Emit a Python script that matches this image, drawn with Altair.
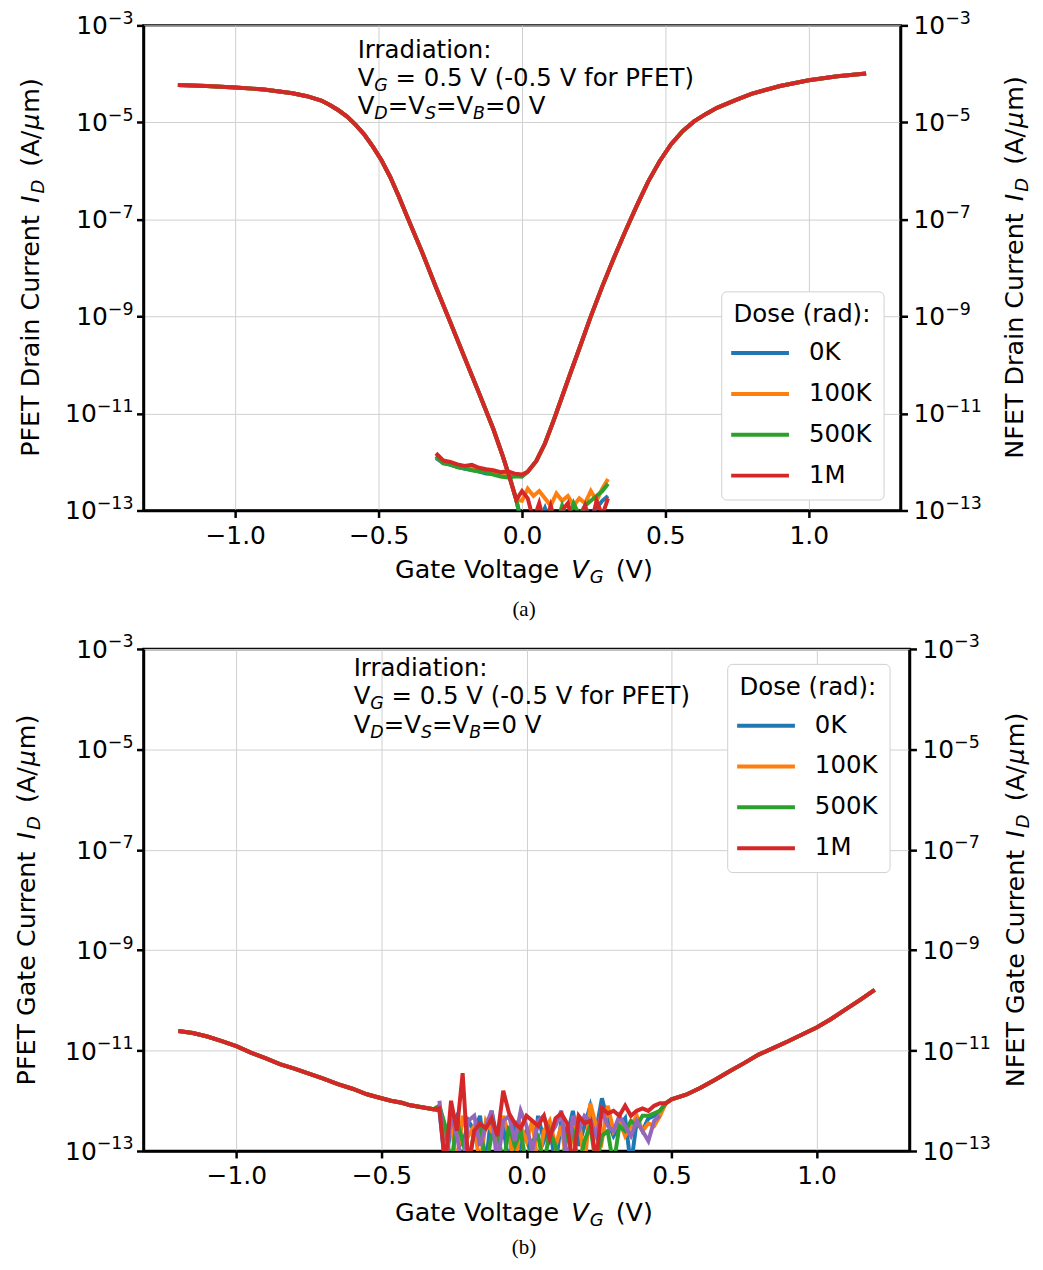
import altair as alt
import pandas as pd

FONT = "DejaVu Sans"
SERIF = "Liberation Serif"
DOSES = ["0K", "100K", "500K", "1M"]
EXTRA = "other"
SERIES_ORDER = DOSES + [EXTRA]
SERIES_COLORS = ["#1f77b4", "#ff7f0e", "#2ca02c", "#d62728", "#9467bd"]

X_TICKS = [-1.0, -0.5, 0.0, 0.5, 1.0]
Y_TICKS = [1e-13, 1e-11, 1e-9, 1e-7, 1e-5, 1e-3]
Y_TICK_BASE = "10"
Y_TICK_EXP = ["−13", "−11", "−9", "−7", "−5", "−3"]

# ---------------- (a) drain current, read as log10(I_D [A/um]) ----------------
A_PFET_VG = [-1.20, -1.10, -1.00, -0.90, -0.80, -0.75, -0.70, -0.67, -0.64, -0.61, -0.58,
             -0.55, -0.52, -0.49, -0.46, -0.43, -0.40, -0.35, -0.30, -0.25, -0.20, -0.15,
             -0.10, -0.067, -0.04, -0.02]
A_PFET_LOG = [-4.23, -4.25, -4.28, -4.32, -4.40, -4.46, -4.55, -4.64, -4.75, -4.88, -5.05,
              -5.25, -5.50, -5.78, -6.12, -6.52, -6.95, -7.65, -8.40, -9.12, -9.85, -10.58,
              -11.32, -11.88, -12.38, -12.78]
A_PFET_TAIL_VG = [0.00, 0.02, 0.04, 0.06, 0.08, 0.10, 0.12, 0.14, 0.16, 0.18, 0.20, 0.22,
                  0.24, 0.26, 0.28, 0.30]
A_PFET_TAIL_0K = [-13.3, -13.1, -13.3, -13.2, -12.95, -13.3, -13.1, -13.0, -13.3, -13.2,
                  -13.3, -12.95, -13.1, -12.95, -12.8, -12.7]
A_PFET_TAIL_100K = [-12.8, -12.55, -12.7, -12.6, -12.75, -12.9, -12.65, -12.8, -12.7, -12.9,
                    -12.75, -12.85, -12.6, -12.8, -12.55, -12.35]
A_PFET_TAIL_500K = [-13.3, -13.2, -13.3, -13.1, -13.3, -13.0, -13.3, -12.9, -13.2, -12.85,
                    -13.1, -12.9, -12.8, -12.7, -12.6, -12.45]
A_PFET_TAIL_1M = [-12.6, -12.75, -13.2, -12.85, -13.3, -12.9, -13.3, -13.0, -12.85, -13.3,
                  -13.2, -12.9, -13.3, -12.8, -13.1, -12.75]

A_NFET_OFF_VG = [-0.30, -0.275, -0.25, -0.225, -0.20, -0.175, -0.15, -0.125, -0.10, -0.075,
                 -0.05, -0.025, 0.0]
A_NFET_OFF_0K = [-11.92, -12.02, -12.06, -12.10, -12.14, -12.16, -12.20, -12.24, -12.25,
                 -12.27, -12.28, -12.28, -12.30]
A_NFET_OFF_100K = [-11.90, -12.00, -12.05, -12.08, -12.11, -12.14, -12.18, -12.20, -12.22,
                   -12.26, -12.27, -12.25, -12.28]
A_NFET_OFF_500K = [-11.88, -12.03, -12.05, -12.11, -12.13, -12.17, -12.19, -12.22, -12.26,
                   -12.30, -12.32, -12.30, -12.30]
A_NFET_OFF_1M = [-11.82, -11.97, -12.00, -12.05, -12.08, -12.06, -12.12, -12.15, -12.17,
                 -12.21, -12.19, -12.24, -12.26]
A_NFET_VG = [0.02, 0.05, 0.08, 0.11, 0.14, 0.17, 0.20, 0.24, 0.28, 0.32, 0.36, 0.40, 0.44,
             0.48, 0.52, 0.56, 0.60, 0.64, 0.68, 0.74, 0.80, 0.90, 1.00, 1.10, 1.20]
A_NFET_LOG = [-12.20, -11.98, -11.62, -11.15, -10.65, -10.15, -9.66, -9.00, -8.38, -7.80,
              -7.25, -6.72, -6.22, -5.80, -5.45, -5.18, -4.98, -4.83, -4.70, -4.55, -4.41,
              -4.25, -4.13, -4.05, -3.99]

# ---------------- (b) gate current, read as log10(I [A/um]) ----------------
B_PFET_VG = [-1.20, -1.15, -1.10, -1.05, -1.00, -0.95, -0.90, -0.85, -0.80, -0.76, -0.70,
             -0.65, -0.60, -0.55, -0.50, -0.467, -0.43, -0.40, -0.36, -0.32]
B_PFET_LOG = [-10.61, -10.65, -10.72, -10.81, -10.91, -11.04, -11.15, -11.27, -11.36, -11.44,
              -11.56, -11.67, -11.76, -11.87, -11.95, -12.00, -12.04, -12.09, -12.13, -12.17]
B_NOISE_VG = [-0.30, -0.28, -0.26, -0.24, -0.22, -0.20, -0.18, -0.16, -0.14, -0.12, -0.10,
              -0.08, -0.06, -0.04, -0.02, 0.00, 0.02, 0.04, 0.06, 0.08, 0.10, 0.12, 0.14,
              0.16, 0.18, 0.20, 0.22, 0.24, 0.26, 0.28, 0.30, 0.32, 0.34, 0.36, 0.38, 0.40,
              0.42, 0.44, 0.46]
B_NOISE_0K = [-12.20, -13.30, -12.50, -12.30, -12.90, -12.40, -12.60, -12.30, -13.30, -12.20,
              -12.80, -12.50, -13.30, -12.40, -12.90, -12.60, -13.30, -12.30, -12.80, -12.50,
              -13.30, -12.40, -12.70, -12.20, -12.90, -12.50, -12.10, -12.60, -11.95, -12.40,
              -12.70, -12.50, -12.35, -13.30, -12.40, -12.60, -12.35, -12.30, -12.20]
B_NOISE_100K = [-12.10, -12.80, -12.40, -13.30, -12.30, -12.70, -12.50, -13.30, -12.40, -12.60,
                -12.90, -12.30, -12.70, -13.30, -12.50, -12.80, -12.40, -13.30, -12.60, -12.40,
                -12.90, -12.50, -13.30, -12.60, -12.30, -13.30, -12.05, -12.50, -12.80, -12.10,
                -12.60, -12.40, -12.70, -12.50, -12.30, -12.60, -12.45, -12.50, -12.30]
B_NOISE_500K = [-12.10, -12.50, -13.30, -12.40, -12.80, -13.30, -12.60, -12.50, -13.30, -12.70,
                -12.60, -13.30, -12.50, -12.90, -12.60, -13.30, -12.80, -12.70, -13.30, -12.60,
                -12.90, -13.30, -12.70, -12.60, -13.30, -12.80, -12.50, -13.30, -12.70, -12.60,
                -13.30, -12.50, -12.60, -12.40, -12.50, -12.30, -12.30, -12.25, -12.20]
B_NOISE_EXTRA = [-12.00, -13.30, -12.30, -12.70, -13.30, -12.40, -12.30, -12.90, -12.50, -12.20,
                 -13.30, -12.40, -12.30, -12.80, -12.20, -12.50, -13.00, -12.40, -12.30, -12.70,
                 -12.50, -12.20, -13.30, -12.30, -12.60, -12.30, -12.40, -12.70, -12.20, -12.50,
                 -12.60, -12.30, -12.50, -12.70, -12.40, -12.60, -12.80, -12.40, -12.30]
B_NOISE_1M = [-12.15, -13.30, -12.00, -12.60, -11.45, -13.30, -12.60, -12.45, -12.55, -12.35,
              -12.70, -11.80, -12.25, -12.45, -12.55, -12.30, -12.40, -12.50, -12.30, -12.75,
              -12.35, -12.25, -12.45, -13.30, -12.30, -12.45, -12.40, -13.20, -12.15, -12.25,
              -12.20, -12.30, -12.10, -12.30, -12.20, -12.15, -12.20, -12.10, -12.05]
B_NFET_VG = [0.48, 0.50, 0.55, 0.60, 0.65, 0.70, 0.75, 0.80, 0.85, 0.90, 0.95, 1.00, 1.05,
             1.10, 1.15, 1.20]
B_NFET_LOG = [-12.05, -11.97, -11.88, -11.74, -11.58, -11.41, -11.25, -11.08, -10.95, -10.82,
              -10.68, -10.54, -10.37, -10.18, -9.99, -9.79]

# ---------------- data tables ----------------
def seg(series, dev, vgs, logs):
    return [{"series": series, "dev": dev, "VG": v, "I": 10.0 ** l} for v, l in zip(vgs, logs)]


A_TAILS = [A_PFET_TAIL_0K, A_PFET_TAIL_100K, A_PFET_TAIL_500K, A_PFET_TAIL_1M]
A_OFFS = [A_NFET_OFF_0K, A_NFET_OFF_100K, A_NFET_OFF_500K, A_NFET_OFF_1M]
rows_a = []
for d, tail, off in zip(DOSES, A_TAILS, A_OFFS):
    rows_a += seg(d, d + "p", A_PFET_VG + A_PFET_TAIL_VG, A_PFET_LOG + tail)
    rows_a += seg(d, d + "n", A_NFET_OFF_VG + A_NFET_VG, off + A_NFET_LOG)
df_a = pd.DataFrame(rows_a)

rows_b = []
for s, noise in [("0K", B_NOISE_0K), ("100K", B_NOISE_100K), ("500K", B_NOISE_500K),
                 (EXTRA, B_NOISE_EXTRA), ("1M", B_NOISE_1M)]:
    if s == EXTRA:
        rows_b += seg(s, s, B_NOISE_VG, noise)
    else:
        rows_b += seg(s, s, B_PFET_VG + B_NOISE_VG + B_NFET_VG, B_PFET_LOG + noise + B_NFET_LOG)
df_b = pd.DataFrame(rows_b)

AXIS_DF = pd.DataFrame({"VG": [0.0], "I": [1e-8]})
ONE = pd.DataFrame({"k": [0]})

# ---------------- helpers ----------------
W = {" ": .318, "(": .390, ")": .390, "-": .361, "−": .838, ".": .318, "/": .337,
     ":": .337, "=": .838, "A": .684, "B": .686, "C": .698, "D": .770, "E": .632, "F": .575,
     "G": .775, "I": .295, "N": .748, "P": .603, "S": .635, "T": .611, "V": .684, "a": .613,
     "d": .635, "e": .615, "f": .352, "g": .635, "i": .278, "l": .278, "m": .974, "n": .634,
     "o": .612, "r": .411, "s": .521, "t": .392, "u": .634, "μ": .635}
for ch in "0123456789":
    W[ch] = .636


def tw(s, size):
    return sum(W.get(c, .6) for c in s) * size


TS = 24.5   # text size
SS = 17.5   # sub/superscript size
TICK = 25
TT = 25.5   # axis-title size
TSS = 18    # axis-title subscript size


def rich_width(pieces):
    return sum(tw(p[0], p[1]) + p[4] for p in pieces)


def rich(pieces, x0, y0, vertical=False, center=False):
    out = []
    adv = -rich_width(pieces) / 2 if center else 0.0
    for text, size, italic, shift, gap in pieces:
        lead = tw(" " * (len(text) - len(text.lstrip(" "))), size)
        body = text.strip(" ")
        a = adv + lead
        if vertical:
            px, py, ang = x0 + shift, y0 - a, 270
        else:
            px, py, ang = x0 + a, y0 + shift, 0
        out.append(
            alt.Chart(ONE).mark_text(
                text=body, font=FONT, fontSize=size,
                fontStyle="italic" if italic else "normal",
                align="left", baseline="alphabetic", angle=ang, color="black",
            ).encode(x=alt.value(px), y=alt.value(py))
        )
        adv += tw(text, size) + gap
    return out


def caption(text, x, y):
    return alt.Chart(ONE).mark_text(
        text=text, font=SERIF, fontSize=21, align="center", baseline="middle", color="black"
    ).encode(x=alt.value(x), y=alt.value(y))


GRID = "#d0d0d0"
AX = dict(domainColor="black", domainWidth=2.5, tickColor="black", tickWidth=2.5, tickSize=7,
          labelFontSize=TICK, labelFont=FONT, labelColor="black", labelOverlap=False,
          labelFlush=False, title=None)

XS = alt.Scale(domain=[-1.32, 1.32], nice=False, zero=False)
YS = alt.Scale(type="log", domain=[1e-13, 1e-3], nice=False)
CS = alt.Scale(domain=SERIES_ORDER, range=SERIES_COLORS)

ANNOT_L1 = [("Irradiation:", TS, False, 0, 0)]
ANNOT_L2 = [("V", TS, False, 0, 0), ("G", SS, True, 5, 0), (" = 0.5 V (-0.5 V for PFET)", TS, False, 0, 0)]
ANNOT_L3 = [("V", TS, False, 0, 0), ("D", SS, True, 5, 0), ("=V", TS, False, 0, 0), ("S", SS, True, 5, 0),
            ("=V", TS, False, 0, 0), ("B", SS, True, 5, 0), ("=0 V", TS, False, 0, 0)]
XTITLE = [("Gate Voltage ", TT, False, 0, 2), ("V", TT, True, 0, 1), ("G", TSS, True, 5, 4),
          (" (V)", TT, False, 0, 0)]


def ytitle(prefix):
    return [(prefix + " ", TT, False, 0, 3), ("I", TT, True, 0, 2), ("D", TSS, True, 5, 5),
            (" (A/", TT, False, 0, 1), ("μ", TT, True, 0, 1), ("m)", TT, False, 0, 0)]


def ylabels(w):
    layers = []
    ytick_df = pd.DataFrame({"v": Y_TICKS, "exp": Y_TICK_EXP})
    yenc = alt.Y("v:Q", scale=YS, axis=None)
    layers.append(alt.Chart(ytick_df).mark_text(
        font=FONT, fontSize=SS, align="right", baseline="alphabetic", dy=-1.5, color="black"
    ).encode(x=alt.value(-10), y=yenc, text="exp:N"))
    for n in sorted(set(len(e) for e in Y_TICK_EXP)):
        sub = ytick_df[ytick_df["exp"].str.len() == n]
        bx = -10 - tw(sub["exp"].iloc[0], SS)
        layers.append(alt.Chart(sub).mark_text(
            text=Y_TICK_BASE, font=FONT, fontSize=TICK, align="right", baseline="alphabetic",
            dy=9, color="black"
        ).encode(x=alt.value(bx), y=yenc))
    layers.append(alt.Chart(ytick_df).mark_text(
        text=Y_TICK_BASE, font=FONT, fontSize=TICK, align="left", baseline="alphabetic", dy=9,
        color="black"
    ).encode(x=alt.value(w + 13), y=yenc))
    layers.append(alt.Chart(ytick_df).mark_text(
        font=FONT, fontSize=SS, align="left", baseline="alphabetic", dy=-1.5, color="black"
    ).encode(x=alt.value(w + 13 + tw(Y_TICK_BASE, TICK)), y=yenc, text="exp:N"))
    return layers


def panel(df, w, h, legend_xy, annot_x, annot_y, xt, ylt, yrt, cap, lpre, rpre):
    legend = alt.Legend(
        title="Dose (rad):", values=DOSES, orient="none", legendX=legend_xy[0], legendY=legend_xy[1],
        symbolType="M-2,0H2", symbolSize=841, symbolStrokeWidth=4, symbolOffset=10.5,
        labelOffset=32.5, labelFontSize=TS, labelFont=FONT, labelColor="black",
        titleFontSize=TS, titleFont=FONT, titleFontWeight="normal", titleColor="black",
        titleAnchor="middle", titlePadding=9, rowPadding=13,
        fillColor="white", strokeColor="#d0d0d0", cornerRadius=5, padding=12,
    )
    lines = alt.Chart(df).mark_line(strokeWidth=4, clip=True).encode(
        x=alt.X("VG:Q", scale=XS, axis=alt.Axis(values=X_TICKS, format=".1f", grid=True,
                                              gridColor=GRID, gridWidth=1, labelPadding=6, **AX)),
        y=alt.Y("I:Q", scale=YS, axis=alt.Axis(values=Y_TICKS, labels=False, orient="left",
                                             grid=True, gridColor=GRID, gridWidth=1, **AX)),
        color=alt.Color("series:N", scale=CS, legend=legend),
        detail="dev:N",
    )
    right = alt.Chart(AXIS_DF).mark_point(opacity=0).encode(
        x=alt.X("VG:Q", scale=XS),
        y=alt.Y("I:Q", scale=YS, axis=alt.Axis(values=Y_TICKS, labels=False, orient="right",
                                             grid=False, **AX)),
    )
    texts = ylabels(w)
    texts += rich(ANNOT_L1, annot_x, annot_y[0])
    texts += rich(ANNOT_L2, annot_x, annot_y[1])
    texts += rich(ANNOT_L3, annot_x, annot_y[2])
    texts += rich(XTITLE, xt[0], xt[1], center=True)
    texts += rich(ytitle(lpre), ylt[0], ylt[1], vertical=True, center=True)
    texts += rich(ytitle(rpre), yrt[0], yrt[1], vertical=True, center=True)
    texts.append(caption(cap[0], cap[1], cap[2]))
    return alt.layer(lines, right, *texts).resolve_axis(y="independent").properties(width=w, height=h)


# title anchors: (x, y) = baseline across the title, centre along its run
pa = panel(df_a, 760, 487, (580, 267), 215, (33, 61, 89), (382, 555), (-105, 243), (883, 243),
           ("(a)", 382, 587), "PFET Drain Current", "NFET Drain Current")
pb = panel(df_b, 769, 504, (586, 15), 211, (27, 55, 84), (382, 574), (-109, 252), (884, 252),
           ("(b)", 382, 601), "PFET Gate Current", "NFET Gate Current")

chart = alt.vconcat(pa, pb, spacing=10).resolve_scale(
    x="independent", y="independent", color="independent"
).resolve_legend(color="independent").configure(
    font=FONT, padding={"left": 5, "top": -2, "right": 0, "bottom": 0}
).configure_view(stroke="black", strokeWidth=2.5)

chart.save("out.html", embed_options={"renderer": "svg", "actions": False})
